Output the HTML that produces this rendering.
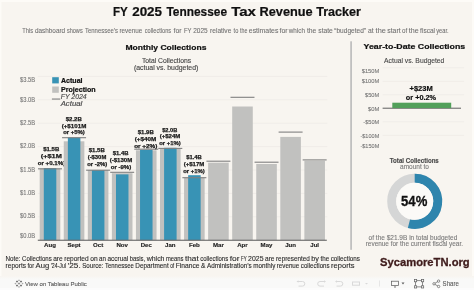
<!DOCTYPE html>
<html><head><meta charset="utf-8"><title>FY 2025 Tennessee Tax Revenue Tracker</title>
<style>
html,body{margin:0;padding:0;background:#f8f5f0;overflow:hidden;}
svg{display:block;will-change:transform;font-family:"Liberation Sans",sans-serif;}
</style></head><body>
<svg width="474" height="290" viewBox="0 0 474 290">
<rect x="0.00" y="0.00" width="474.00" height="290.00" fill="#fdfbf7" />
<rect x="1.50" y="2.00" width="470.50" height="276.00" fill="#f8f5f0" />
<defs><linearGradient id="tg" x1="0" y1="0" x2="0" y2="1"><stop offset="0" stop-color="#f8f5f0"/><stop offset="1" stop-color="#f9f9f8"/></linearGradient></defs>
<rect x="0.00" y="276.00" width="474.00" height="3.00" fill="url(#tg)" />
<rect x="0.00" y="279.00" width="474.00" height="9.00" fill="#f9f9f8" />
<rect x="0.00" y="288.00" width="474.00" height="2.00" fill="#fcfcfc" />
<text x="113.00" y="16.00" font-size="11.92" fill="#111" font-weight="bold" stroke="#111" stroke-width="0.2" textLength="14.80" lengthAdjust="spacingAndGlyphs">FY</text>
<text x="132.20" y="16.00" font-size="11.92" fill="#111" font-weight="bold" stroke="#111" stroke-width="0.2" textLength="29.80" lengthAdjust="spacingAndGlyphs">2025</text>
<text x="166.40" y="16.00" font-size="11.92" fill="#111" font-weight="bold" stroke="#111" stroke-width="0.2" textLength="60.70" lengthAdjust="spacingAndGlyphs">Tennessee</text>
<text x="231.20" y="16.00" font-size="11.92" fill="#111" font-weight="bold" stroke="#111" stroke-width="0.2" textLength="24.80" lengthAdjust="spacingAndGlyphs">Tax</text>
<text x="259.50" y="16.00" font-size="11.92" fill="#111" font-weight="bold" stroke="#111" stroke-width="0.2" textLength="53.20" lengthAdjust="spacingAndGlyphs">Revenue</text>
<text x="316.20" y="16.00" font-size="11.92" fill="#111" font-weight="bold" stroke="#111" stroke-width="0.2" textLength="44.70" lengthAdjust="spacingAndGlyphs">Tracker</text>
<text x="22.20" y="32.60" font-size="6.69" fill="#707070" stroke="#707070" stroke-width="0.08" textLength="10.80" lengthAdjust="spacingAndGlyphs">This</text>
<text x="34.90" y="32.60" font-size="6.69" fill="#707070" stroke="#707070" stroke-width="0.08" textLength="30.30" lengthAdjust="spacingAndGlyphs">dashboard</text>
<text x="66.90" y="32.60" font-size="6.69" fill="#707070" stroke="#707070" stroke-width="0.08" textLength="15.80" lengthAdjust="spacingAndGlyphs">shows</text>
<text x="85.00" y="32.60" font-size="6.69" fill="#707070" stroke="#707070" stroke-width="0.08" textLength="33.00" lengthAdjust="spacingAndGlyphs">Tennessee’s</text>
<text x="119.50" y="32.60" font-size="6.69" fill="#707070" stroke="#707070" stroke-width="0.08" textLength="22.80" lengthAdjust="spacingAndGlyphs">revenue</text>
<text x="144.80" y="32.60" font-size="6.69" fill="#707070" stroke="#707070" stroke-width="0.08" textLength="26.30" lengthAdjust="spacingAndGlyphs">collections</text>
<text x="173.50" y="32.60" font-size="6.69" fill="#707070" stroke="#707070" stroke-width="0.08" textLength="8.10" lengthAdjust="spacingAndGlyphs">for</text>
<text x="183.90" y="32.60" font-size="6.69" fill="#707070" stroke="#707070" stroke-width="0.08" textLength="7.60" lengthAdjust="spacingAndGlyphs">FY</text>
<text x="193.20" y="32.60" font-size="6.69" fill="#707070" stroke="#707070" stroke-width="0.08" textLength="14.50" lengthAdjust="spacingAndGlyphs">2025</text>
<text x="210.10" y="32.60" font-size="6.69" fill="#707070" stroke="#707070" stroke-width="0.08" textLength="21.20" lengthAdjust="spacingAndGlyphs">relative</text>
<text x="233.60" y="32.60" font-size="6.69" fill="#707070" stroke="#707070" stroke-width="0.08" textLength="4.70" lengthAdjust="spacingAndGlyphs">to</text>
<text x="240.00" y="32.60" font-size="6.69" fill="#707070" stroke="#707070" stroke-width="0.08" textLength="7.30" lengthAdjust="spacingAndGlyphs">the</text>
<text x="248.80" y="32.60" font-size="6.69" fill="#707070" stroke="#707070" stroke-width="0.08" textLength="29.60" lengthAdjust="spacingAndGlyphs">estimates</text>
<text x="279.50" y="32.60" font-size="6.69" fill="#707070" stroke="#707070" stroke-width="0.08" textLength="8.20" lengthAdjust="spacingAndGlyphs">for</text>
<text x="288.80" y="32.60" font-size="6.69" fill="#707070" stroke="#707070" stroke-width="0.08" textLength="16.10" lengthAdjust="spacingAndGlyphs">which</text>
<text x="306.90" y="32.60" font-size="6.69" fill="#707070" stroke="#707070" stroke-width="0.08" textLength="9.40" lengthAdjust="spacingAndGlyphs">the</text>
<text x="318.30" y="32.60" font-size="6.69" fill="#707070" stroke="#707070" stroke-width="0.08" textLength="14.50" lengthAdjust="spacingAndGlyphs">state</text>
<text x="334.30" y="32.60" font-size="6.69" fill="#707070" stroke="#707070" stroke-width="0.08" textLength="31.70" lengthAdjust="spacingAndGlyphs">“budgeted”</text>
<text x="368.00" y="32.60" font-size="6.69" fill="#707070" stroke="#707070" stroke-width="0.08" textLength="5.60" lengthAdjust="spacingAndGlyphs">at</text>
<text x="375.60" y="32.60" font-size="6.69" fill="#707070" stroke="#707070" stroke-width="0.08" textLength="10.20" lengthAdjust="spacingAndGlyphs">the</text>
<text x="387.30" y="32.60" font-size="6.69" fill="#707070" stroke="#707070" stroke-width="0.08" textLength="13.30" lengthAdjust="spacingAndGlyphs">start</text>
<text x="402.10" y="32.60" font-size="6.69" fill="#707070" stroke="#707070" stroke-width="0.08" textLength="5.20" lengthAdjust="spacingAndGlyphs">of</text>
<text x="408.80" y="32.60" font-size="6.69" fill="#707070" stroke="#707070" stroke-width="0.08" textLength="9.90" lengthAdjust="spacingAndGlyphs">the</text>
<text x="420.10" y="32.60" font-size="6.69" fill="#707070" stroke="#707070" stroke-width="0.08" textLength="15.00" lengthAdjust="spacingAndGlyphs">fiscal</text>
<text x="436.20" y="32.60" font-size="6.69" fill="#707070" stroke="#707070" stroke-width="0.08" textLength="12.40" lengthAdjust="spacingAndGlyphs">year.</text>
<text x="125.40" y="49.80" font-size="7.70" fill="#111" font-weight="bold" stroke="#111" stroke-width="0.2" textLength="81.00" lengthAdjust="spacingAndGlyphs">Monthly Collections</text>
<text x="141.90" y="62.80" font-size="6.54" fill="#454545" stroke="#454545" stroke-width="0.12" textLength="49.20" lengthAdjust="spacingAndGlyphs">Total Collections</text>
<text x="134.00" y="69.80" font-size="6.54" fill="#454545" stroke="#454545" stroke-width="0.12" textLength="64.30" lengthAdjust="spacingAndGlyphs">(actual vs. budgeted)</text>
<rect x="37.80" y="216.30" width="289.50" height="1.00" fill="#f0ede8" />
<rect x="37.80" y="192.90" width="289.50" height="1.00" fill="#f0ede8" />
<rect x="37.80" y="169.50" width="289.50" height="1.00" fill="#f0ede8" />
<rect x="37.80" y="146.10" width="289.50" height="1.00" fill="#f0ede8" />
<rect x="37.80" y="122.70" width="289.50" height="1.00" fill="#f0ede8" />
<rect x="37.80" y="99.30" width="289.50" height="1.00" fill="#f0ede8" />
<rect x="37.80" y="75.90" width="289.50" height="1.00" fill="#f0ede8" />
<text x="20.00" y="81.50" font-size="6.40" fill="#777" stroke="#777" stroke-width="0.1" textLength="15.10" lengthAdjust="spacingAndGlyphs">$3.5B</text>
<text x="20.00" y="101.50" font-size="6.40" fill="#777" stroke="#777" stroke-width="0.1" textLength="15.10" lengthAdjust="spacingAndGlyphs">$3.0B</text>
<text x="20.00" y="125.10" font-size="6.40" fill="#777" stroke="#777" stroke-width="0.1" textLength="15.10" lengthAdjust="spacingAndGlyphs">$2.5B</text>
<text x="20.00" y="148.20" font-size="6.40" fill="#777" stroke="#777" stroke-width="0.1" textLength="15.10" lengthAdjust="spacingAndGlyphs">$2.0B</text>
<text x="20.00" y="171.50" font-size="6.40" fill="#777" stroke="#777" stroke-width="0.1" textLength="15.10" lengthAdjust="spacingAndGlyphs">$1.5B</text>
<text x="20.00" y="194.50" font-size="6.40" fill="#777" stroke="#777" stroke-width="0.1" textLength="15.10" lengthAdjust="spacingAndGlyphs">$1.0B</text>
<text x="20.00" y="217.60" font-size="6.40" fill="#777" stroke="#777" stroke-width="0.1" textLength="15.10" lengthAdjust="spacingAndGlyphs">$0.5B</text>
<text x="20.00" y="238.20" font-size="6.40" fill="#777" stroke="#777" stroke-width="0.1" textLength="15.10" lengthAdjust="spacingAndGlyphs">$0.0B</text>
<rect x="39.70" y="168.80" width="20.60" height="71.40" fill="#c1c1bf" />
<rect x="43.80" y="168.00" width="12.50" height="72.20" fill="#3893b5" />
<rect x="38.00" y="168.25" width="24.00" height="1.10" fill="#808080" />
<text x="50.00" y="247.1" font-size="6.1" font-weight="bold" fill="#1e1e1e" stroke="#1e1e1e" stroke-width="0.15" text-anchor="middle">Aug</text>
<text x="43.20" y="151.00" font-size="5.81" fill="#1a1a1a" font-weight="bold" stroke="#1a1a1a" stroke-width="0.25" textLength="16.10" lengthAdjust="spacingAndGlyphs">$1.5B</text>
<text x="40.70" y="158.00" font-size="5.81" fill="#1a1a1a" font-weight="bold" stroke="#1a1a1a" stroke-width="0.25" textLength="21.10" lengthAdjust="spacingAndGlyphs">(+$1M</text>
<text x="37.70" y="164.50" font-size="5.81" fill="#1a1a1a" font-weight="bold" stroke="#1a1a1a" stroke-width="0.25" textLength="27.60" lengthAdjust="spacingAndGlyphs">or +0.1%)</text>
<rect x="63.76" y="141.30" width="20.60" height="98.90" fill="#c1c1bf" />
<rect x="67.86" y="137.50" width="12.50" height="102.70" fill="#3893b5" />
<rect x="62.06" y="137.15" width="24.00" height="1.10" fill="#808080" />
<text x="74.06" y="247.1" font-size="6.1" font-weight="bold" fill="#1e1e1e" stroke="#1e1e1e" stroke-width="0.15" text-anchor="middle">Sept</text>
<text x="65.70" y="120.50" font-size="5.81" fill="#1a1a1a" font-weight="bold" stroke="#1a1a1a" stroke-width="0.25" textLength="16.10" lengthAdjust="spacingAndGlyphs">$2.2B</text>
<text x="61.70" y="127.50" font-size="5.81" fill="#1a1a1a" font-weight="bold" stroke="#1a1a1a" stroke-width="0.25" textLength="24.60" lengthAdjust="spacingAndGlyphs">(+$101M</text>
<text x="63.20" y="134.20" font-size="5.81" fill="#1a1a1a" font-weight="bold" stroke="#1a1a1a" stroke-width="0.25" textLength="21.60" lengthAdjust="spacingAndGlyphs">or +5%)</text>
<rect x="87.82" y="170.00" width="20.60" height="70.20" fill="#c1c1bf" />
<rect x="91.92" y="170.20" width="12.50" height="70.00" fill="#3893b5" />
<rect x="86.12" y="169.65" width="24.00" height="1.10" fill="#808080" />
<text x="98.12" y="247.1" font-size="6.1" font-weight="bold" fill="#1e1e1e" stroke="#1e1e1e" stroke-width="0.15" text-anchor="middle">Oct</text>
<text x="88.70" y="152.20" font-size="5.81" fill="#1a1a1a" font-weight="bold" stroke="#1a1a1a" stroke-width="0.25" textLength="16.10" lengthAdjust="spacingAndGlyphs">$1.5B</text>
<text x="87.70" y="159.00" font-size="5.81" fill="#1a1a1a" font-weight="bold" stroke="#1a1a1a" stroke-width="0.25" textLength="18.60" lengthAdjust="spacingAndGlyphs">(-$30M</text>
<text x="87.20" y="166.00" font-size="5.81" fill="#1a1a1a" font-weight="bold" stroke="#1a1a1a" stroke-width="0.25" textLength="20.10" lengthAdjust="spacingAndGlyphs">or -2%)</text>
<rect x="111.88" y="173.20" width="20.60" height="67.00" fill="#c1c1bf" />
<rect x="115.98" y="174.40" width="12.50" height="65.80" fill="#3893b5" />
<rect x="110.18" y="171.75" width="24.00" height="1.10" fill="#808080" />
<text x="122.18" y="247.1" font-size="6.1" font-weight="bold" fill="#1e1e1e" stroke="#1e1e1e" stroke-width="0.15" text-anchor="middle">Nov</text>
<text x="112.70" y="155.00" font-size="5.81" fill="#1a1a1a" font-weight="bold" stroke="#1a1a1a" stroke-width="0.25" textLength="15.80" lengthAdjust="spacingAndGlyphs">$1.4B</text>
<text x="109.70" y="162.00" font-size="5.81" fill="#1a1a1a" font-weight="bold" stroke="#1a1a1a" stroke-width="0.25" textLength="22.60" lengthAdjust="spacingAndGlyphs">(-$130M</text>
<text x="110.70" y="168.50" font-size="5.81" fill="#1a1a1a" font-weight="bold" stroke="#1a1a1a" stroke-width="0.25" textLength="20.60" lengthAdjust="spacingAndGlyphs">or -9%)</text>
<rect x="135.94" y="150.30" width="20.60" height="89.90" fill="#c1c1bf" />
<rect x="140.04" y="149.80" width="12.50" height="90.40" fill="#3893b5" />
<rect x="134.24" y="148.65" width="24.00" height="1.10" fill="#808080" />
<text x="146.24" y="247.1" font-size="6.1" font-weight="bold" fill="#1e1e1e" stroke="#1e1e1e" stroke-width="0.15" text-anchor="middle">Dec</text>
<text x="137.70" y="134.00" font-size="5.81" fill="#1a1a1a" font-weight="bold" stroke="#1a1a1a" stroke-width="0.25" textLength="16.10" lengthAdjust="spacingAndGlyphs">$1.9B</text>
<text x="134.70" y="141.00" font-size="5.81" fill="#1a1a1a" font-weight="bold" stroke="#1a1a1a" stroke-width="0.25" textLength="21.60" lengthAdjust="spacingAndGlyphs">(+$40M</text>
<text x="134.20" y="148.00" font-size="5.81" fill="#1a1a1a" font-weight="bold" stroke="#1a1a1a" stroke-width="0.25" textLength="23.10" lengthAdjust="spacingAndGlyphs">or +2%)</text>
<rect x="160.00" y="148.80" width="20.60" height="91.40" fill="#c1c1bf" />
<rect x="164.10" y="147.80" width="12.50" height="92.40" fill="#3893b5" />
<rect x="158.30" y="147.85" width="24.00" height="1.10" fill="#808080" />
<text x="170.30" y="247.1" font-size="6.1" font-weight="bold" fill="#1e1e1e" stroke="#1e1e1e" stroke-width="0.15" text-anchor="middle">Jan</text>
<text x="162.20" y="131.50" font-size="5.81" fill="#1a1a1a" font-weight="bold" stroke="#1a1a1a" stroke-width="0.25" textLength="15.10" lengthAdjust="spacingAndGlyphs">$2.0B</text>
<text x="159.70" y="138.20" font-size="5.81" fill="#1a1a1a" font-weight="bold" stroke="#1a1a1a" stroke-width="0.25" textLength="20.60" lengthAdjust="spacingAndGlyphs">(+$24M</text>
<text x="159.20" y="145.00" font-size="5.81" fill="#1a1a1a" font-weight="bold" stroke="#1a1a1a" stroke-width="0.25" textLength="21.60" lengthAdjust="spacingAndGlyphs">or +1%)</text>
<rect x="184.06" y="177.90" width="20.60" height="62.30" fill="#c1c1bf" />
<rect x="188.16" y="175.20" width="12.50" height="65.00" fill="#3893b5" />
<rect x="182.36" y="177.15" width="24.00" height="1.10" fill="#808080" />
<text x="194.36" y="247.1" font-size="6.1" font-weight="bold" fill="#1e1e1e" stroke="#1e1e1e" stroke-width="0.15" text-anchor="middle">Feb</text>
<text x="186.20" y="159.00" font-size="5.81" fill="#1a1a1a" font-weight="bold" stroke="#1a1a1a" stroke-width="0.25" textLength="15.60" lengthAdjust="spacingAndGlyphs">$1.4B</text>
<text x="183.70" y="166.00" font-size="5.81" fill="#1a1a1a" font-weight="bold" stroke="#1a1a1a" stroke-width="0.25" textLength="20.60" lengthAdjust="spacingAndGlyphs">(+$17M</text>
<text x="183.20" y="173.00" font-size="5.81" fill="#1a1a1a" font-weight="bold" stroke="#1a1a1a" stroke-width="0.25" textLength="21.60" lengthAdjust="spacingAndGlyphs">or +1%)</text>
<rect x="208.12" y="162.70" width="20.60" height="77.50" fill="#c1c1bf" />
<rect x="206.42" y="160.65" width="24.00" height="1.10" fill="#808080" />
<text x="218.42" y="247.1" font-size="6.1" font-weight="bold" fill="#1e1e1e" stroke="#1e1e1e" stroke-width="0.15" text-anchor="middle">Mar</text>
<rect x="232.18" y="106.50" width="20.60" height="133.70" fill="#c1c1bf" />
<rect x="230.48" y="96.75" width="24.00" height="1.10" fill="#808080" />
<text x="242.48" y="247.1" font-size="6.1" font-weight="bold" fill="#1e1e1e" stroke="#1e1e1e" stroke-width="0.15" text-anchor="middle">Apr</text>
<rect x="256.24" y="164.00" width="20.60" height="76.20" fill="#c1c1bf" />
<rect x="254.54" y="161.65" width="24.00" height="1.10" fill="#808080" />
<text x="266.54" y="247.1" font-size="6.1" font-weight="bold" fill="#1e1e1e" stroke="#1e1e1e" stroke-width="0.15" text-anchor="middle">May</text>
<rect x="280.30" y="136.90" width="20.60" height="103.30" fill="#c1c1bf" />
<rect x="278.60" y="131.55" width="24.00" height="1.10" fill="#808080" />
<text x="290.60" y="247.1" font-size="6.1" font-weight="bold" fill="#1e1e1e" stroke="#1e1e1e" stroke-width="0.15" text-anchor="middle">Jun</text>
<rect x="304.36" y="160.80" width="20.60" height="79.40" fill="#c1c1bf" />
<rect x="302.66" y="159.35" width="24.00" height="1.10" fill="#808080" />
<text x="314.66" y="247.1" font-size="6.1" font-weight="bold" fill="#1e1e1e" stroke="#1e1e1e" stroke-width="0.15" text-anchor="middle">Jul</text>
<rect x="37.80" y="239.70" width="289.00" height="1.10" fill="#666" />
<rect x="52.20" y="77.20" width="6.60" height="6.20" fill="#3893b5" />
<rect x="52.20" y="86.50" width="6.60" height="6.30" fill="#c1c1bf" />
<rect x="51.90" y="98.50" width="8.30" height="1.10" fill="#808080" />
<text x="61.00" y="83.00" font-size="6.40" fill="#111" font-weight="bold" stroke="#111" stroke-width="0.2" textLength="21.50" lengthAdjust="spacingAndGlyphs">Actual</text>
<text x="61.00" y="92.10" font-size="6.40" fill="#111" font-weight="bold" stroke="#111" stroke-width="0.2" textLength="34.60" lengthAdjust="spacingAndGlyphs">Projection</text>
<text x="60.70" y="98.80" font-size="6.40" fill="#4a4a4a" stroke="#4a4a4a" stroke-width="0.15" font-style="italic" textLength="26.00" lengthAdjust="spacingAndGlyphs">FY 2024</text>
<text x="60.70" y="105.50" font-size="6.40" fill="#4a4a4a" stroke="#4a4a4a" stroke-width="0.15" font-style="italic" textLength="21.60" lengthAdjust="spacingAndGlyphs">Actual</text>
<rect x="350.20" y="41.30" width="1.80" height="208.50" fill="#c0c0c0" />
<text x="363.60" y="48.80" font-size="7.63" fill="#111" font-weight="bold" stroke="#111" stroke-width="0.2" textLength="101.60" lengthAdjust="spacingAndGlyphs">Year-to-Date Collections</text>
<text x="384.10" y="62.60" font-size="6.69" fill="#454545" stroke="#454545" stroke-width="0.1" textLength="60.30" lengthAdjust="spacingAndGlyphs">Actual vs. Budgeted</text>
<rect x="382.60" y="67.30" width="81.50" height="1.00" fill="#f0ede8" />
<rect x="382.60" y="80.80" width="81.50" height="1.00" fill="#f0ede8" />
<rect x="382.60" y="94.30" width="81.50" height="1.00" fill="#f0ede8" />
<rect x="382.60" y="121.30" width="81.50" height="1.00" fill="#f0ede8" />
<rect x="382.60" y="134.80" width="81.50" height="1.00" fill="#f0ede8" />
<text x="361.70" y="73.10" font-size="6.25" fill="#777" stroke="#777" stroke-width="0.1" textLength="17.60" lengthAdjust="spacingAndGlyphs">$150M</text>
<text x="361.70" y="82.90" font-size="6.25" fill="#777" stroke="#777" stroke-width="0.1" textLength="17.60" lengthAdjust="spacingAndGlyphs">$100M</text>
<text x="365.00" y="97.20" font-size="6.25" fill="#777" stroke="#777" stroke-width="0.1" textLength="14.30" lengthAdjust="spacingAndGlyphs">$50M</text>
<text x="367.90" y="110.50" font-size="6.25" fill="#777" stroke="#777" stroke-width="0.1" textLength="11.40" lengthAdjust="spacingAndGlyphs">$0M</text>
<text x="363.30" y="123.80" font-size="6.25" fill="#777" stroke="#777" stroke-width="0.1" textLength="16.00" lengthAdjust="spacingAndGlyphs">-$50M</text>
<text x="360.40" y="137.50" font-size="6.25" fill="#777" stroke="#777" stroke-width="0.1" textLength="18.90" lengthAdjust="spacingAndGlyphs">-$100M</text>
<text x="360.40" y="147.60" font-size="6.25" fill="#777" stroke="#777" stroke-width="0.1" textLength="18.90" lengthAdjust="spacingAndGlyphs">-$150M</text>
<rect x="382.60" y="107.70" width="78.40" height="1.00" fill="#5e5e5e" />
<rect x="392.30" y="102.70" width="58.90" height="5.40" fill="#52a05a" />
<text x="409.50" y="90.50" font-size="6.98" fill="#111" font-weight="bold" stroke="#111" stroke-width="0.2" textLength="23.20" lengthAdjust="spacingAndGlyphs">+$23M</text>
<text x="405.80" y="99.80" font-size="6.98" fill="#111" font-weight="bold" stroke="#111" stroke-width="0.2" textLength="30.30" lengthAdjust="spacingAndGlyphs">or +0.2%</text>
<text x="389.80" y="162.70" font-size="6.54" fill="#4a4a4a" font-weight="bold" stroke="#4a4a4a" stroke-width="0.15" textLength="49.00" lengthAdjust="spacingAndGlyphs">Total Collections</text>
<text x="400.00" y="168.70" font-size="6.54" fill="#7a7a7a" stroke="#7a7a7a" stroke-width="0.1" textLength="29.00" lengthAdjust="spacingAndGlyphs">amount to</text>
<circle cx="414.7" cy="201.3" r="23.0" fill="none" stroke="#d5d6d6" stroke-width="9.0"/>
<path d="M 414.7 178.3 A 23.0 23.0 0 1 1 408.980 223.577" fill="none" stroke="#2e85ad" stroke-width="9.0"/>
<circle cx="414.7" cy="201.3" r="18.5" fill="#fbfaf7"/>
<text x="401.10" y="206.30" font-size="14.53" fill="#111" font-weight="bold" stroke="#111" stroke-width="0.3" textLength="26.20" lengthAdjust="spacingAndGlyphs">54%</text>
<text x="368.60" y="240.00" font-size="6.54" fill="#7a7a7a" stroke="#7a7a7a" stroke-width="0.1" textLength="88.70" lengthAdjust="spacingAndGlyphs">of the $21.9B in total budgeted</text>
<text x="365.70" y="246.10" font-size="6.54" fill="#7a7a7a" stroke="#7a7a7a" stroke-width="0.1" textLength="97.30" lengthAdjust="spacingAndGlyphs">revenue for the current fiscal year.</text>
<text x="5.60" y="261.40" font-size="6.54" fill="#2a2a2a" stroke="#2a2a2a" stroke-width="0.1" textLength="15.00" lengthAdjust="spacingAndGlyphs">Note:</text>
<text x="22.10" y="261.40" font-size="6.54" fill="#2a2a2a" stroke="#2a2a2a" stroke-width="0.1" textLength="29.60" lengthAdjust="spacingAndGlyphs">Collections</text>
<text x="53.20" y="261.40" font-size="6.54" fill="#2a2a2a" stroke="#2a2a2a" stroke-width="0.1" textLength="9.50" lengthAdjust="spacingAndGlyphs">are</text>
<text x="64.20" y="261.40" font-size="6.54" fill="#2a2a2a" stroke="#2a2a2a" stroke-width="0.1" textLength="24.50" lengthAdjust="spacingAndGlyphs">reported</text>
<text x="90.20" y="261.40" font-size="6.54" fill="#2a2a2a" stroke="#2a2a2a" stroke-width="0.1" textLength="7.40" lengthAdjust="spacingAndGlyphs">on</text>
<text x="99.10" y="261.40" font-size="6.54" fill="#2a2a2a" stroke="#2a2a2a" stroke-width="0.1" textLength="6.90" lengthAdjust="spacingAndGlyphs">an</text>
<text x="107.50" y="261.40" font-size="6.54" fill="#2a2a2a" stroke="#2a2a2a" stroke-width="0.1" textLength="20.80" lengthAdjust="spacingAndGlyphs">accrual</text>
<text x="129.80" y="261.40" font-size="6.54" fill="#2a2a2a" stroke="#2a2a2a" stroke-width="0.1" textLength="15.40" lengthAdjust="spacingAndGlyphs">basis,</text>
<text x="146.70" y="261.40" font-size="6.54" fill="#2a2a2a" stroke="#2a2a2a" stroke-width="0.1" textLength="17.80" lengthAdjust="spacingAndGlyphs">which</text>
<text x="166.00" y="261.40" font-size="6.54" fill="#2a2a2a" stroke="#2a2a2a" stroke-width="0.1" textLength="17.50" lengthAdjust="spacingAndGlyphs">means</text>
<text x="185.00" y="261.40" font-size="6.54" fill="#2a2a2a" stroke="#2a2a2a" stroke-width="0.1" textLength="13.70" lengthAdjust="spacingAndGlyphs">that</text>
<text x="200.20" y="261.40" font-size="6.54" fill="#2a2a2a" stroke="#2a2a2a" stroke-width="0.1" textLength="28.00" lengthAdjust="spacingAndGlyphs">collections</text>
<text x="229.70" y="261.40" font-size="6.54" fill="#2a2a2a" stroke="#2a2a2a" stroke-width="0.1" textLength="9.80" lengthAdjust="spacingAndGlyphs">for</text>
<text x="241.00" y="261.40" font-size="6.54" fill="#2a2a2a" stroke="#2a2a2a" stroke-width="0.1" textLength="5.60" lengthAdjust="spacingAndGlyphs">FY</text>
<text x="248.10" y="261.40" font-size="6.54" fill="#2a2a2a" stroke="#2a2a2a" stroke-width="0.1" textLength="15.40" lengthAdjust="spacingAndGlyphs">2025</text>
<text x="265.00" y="261.40" font-size="6.54" fill="#2a2a2a" stroke="#2a2a2a" stroke-width="0.1" textLength="9.50" lengthAdjust="spacingAndGlyphs">are</text>
<text x="276.00" y="261.40" font-size="6.54" fill="#2a2a2a" stroke="#2a2a2a" stroke-width="0.1" textLength="33.80" lengthAdjust="spacingAndGlyphs">represented</text>
<text x="311.30" y="261.40" font-size="6.54" fill="#2a2a2a" stroke="#2a2a2a" stroke-width="0.1" textLength="7.70" lengthAdjust="spacingAndGlyphs">by</text>
<text x="320.50" y="261.40" font-size="6.54" fill="#2a2a2a" stroke="#2a2a2a" stroke-width="0.1" textLength="8.70" lengthAdjust="spacingAndGlyphs">the</text>
<text x="330.70" y="261.40" font-size="6.54" fill="#2a2a2a" stroke="#2a2a2a" stroke-width="0.1" textLength="29.30" lengthAdjust="spacingAndGlyphs">collections</text>
<text x="5.60" y="268.30" font-size="6.54" fill="#2a2a2a" stroke="#2a2a2a" stroke-width="0.1" textLength="20.40" lengthAdjust="spacingAndGlyphs">reports</text>
<text x="27.50" y="268.30" font-size="6.54" fill="#2a2a2a" stroke="#2a2a2a" stroke-width="0.1" textLength="6.60" lengthAdjust="spacingAndGlyphs">for</text>
<text x="35.60" y="268.30" font-size="6.54" fill="#2a2a2a" stroke="#2a2a2a" stroke-width="0.1" textLength="13.60" lengthAdjust="spacingAndGlyphs">Aug</text>
<text x="50.70" y="268.30" font-size="6.54" fill="#2a2a2a" stroke="#2a2a2a" stroke-width="0.1" textLength="15.30" lengthAdjust="spacingAndGlyphs">’24-Jul</text>
<text x="67.50" y="268.30" font-size="6.54" fill="#2a2a2a" stroke="#2a2a2a" stroke-width="0.1" textLength="13.20" lengthAdjust="spacingAndGlyphs">’25.</text>
<text x="82.20" y="268.30" font-size="6.54" fill="#2a2a2a" stroke="#2a2a2a" stroke-width="0.1" textLength="21.30" lengthAdjust="spacingAndGlyphs">Source:</text>
<text x="105.00" y="268.30" font-size="6.54" fill="#2a2a2a" stroke="#2a2a2a" stroke-width="0.1" textLength="28.80" lengthAdjust="spacingAndGlyphs">Tennessee</text>
<text x="135.30" y="268.30" font-size="6.54" fill="#2a2a2a" stroke="#2a2a2a" stroke-width="0.1" textLength="33.40" lengthAdjust="spacingAndGlyphs">Department</text>
<text x="170.20" y="268.30" font-size="6.54" fill="#2a2a2a" stroke="#2a2a2a" stroke-width="0.1" textLength="4.00" lengthAdjust="spacingAndGlyphs">of</text>
<text x="175.70" y="268.30" font-size="6.54" fill="#2a2a2a" stroke="#2a2a2a" stroke-width="0.1" textLength="23.80" lengthAdjust="spacingAndGlyphs">Finance</text>
<text x="201.00" y="268.30" font-size="6.54" fill="#2a2a2a" stroke="#2a2a2a" stroke-width="0.1" textLength="4.40" lengthAdjust="spacingAndGlyphs">&amp;</text>
<text x="206.90" y="268.30" font-size="6.54" fill="#2a2a2a" stroke="#2a2a2a" stroke-width="0.1" textLength="44.80" lengthAdjust="spacingAndGlyphs">Administration’s</text>
<text x="253.20" y="268.30" font-size="6.54" fill="#2a2a2a" stroke="#2a2a2a" stroke-width="0.1" textLength="22.10" lengthAdjust="spacingAndGlyphs">monthly</text>
<text x="276.80" y="268.30" font-size="6.54" fill="#2a2a2a" stroke="#2a2a2a" stroke-width="0.1" textLength="22.50" lengthAdjust="spacingAndGlyphs">revenue</text>
<text x="300.80" y="268.30" font-size="6.54" fill="#2a2a2a" stroke="#2a2a2a" stroke-width="0.1" textLength="28.80" lengthAdjust="spacingAndGlyphs">collections</text>
<text x="331.10" y="268.30" font-size="6.54" fill="#2a2a2a" stroke="#2a2a2a" stroke-width="0.1" textLength="23.40" lengthAdjust="spacingAndGlyphs">reports</text>
<text x="380.00" y="266.00" font-size="11.05" fill="#3f1c1c" font-weight="bold" stroke="#3f1c1c" stroke-width="0.3" textLength="89.70" lengthAdjust="spacingAndGlyphs">SycamoreTN.org</text>
<text x="25.00" y="285.60" font-size="6.25" fill="#5a5a5a" stroke="#5a5a5a" stroke-width="0.1" textLength="61.80" lengthAdjust="spacingAndGlyphs">View on Tableau Public</text>
<text x="442.60" y="285.70" font-size="6.54" fill="#5a5a5a" stroke="#5a5a5a" stroke-width="0.1" textLength="16.20" lengthAdjust="spacingAndGlyphs">Share</text>
<rect x="17.90" y="283.20" width="2.20" height="0.80" fill="#8a8a8a" />
<rect x="18.60" y="282.50" width="0.80" height="2.20" fill="#8a8a8a" />
<rect x="14.60" y="283.30" width="1.60" height="0.60" fill="#9a9a9a" />
<rect x="15.10" y="282.80" width="0.60" height="1.60" fill="#9a9a9a" />
<rect x="21.80" y="283.30" width="1.60" height="0.60" fill="#9a9a9a" />
<rect x="22.30" y="282.80" width="0.60" height="1.60" fill="#9a9a9a" />
<rect x="18.20" y="280.00" width="1.60" height="0.60" fill="#9a9a9a" />
<rect x="18.70" y="279.50" width="0.60" height="1.60" fill="#9a9a9a" />
<rect x="18.20" y="286.60" width="1.60" height="0.60" fill="#9a9a9a" />
<rect x="18.70" y="286.10" width="0.60" height="1.60" fill="#9a9a9a" />
<rect x="16.00" y="281.20" width="2.00" height="0.80" fill="#6a6a6a" />
<rect x="16.60" y="280.60" width="0.80" height="2.00" fill="#6a6a6a" />
<rect x="20.00" y="281.20" width="2.00" height="0.80" fill="#6a6a6a" />
<rect x="20.60" y="280.60" width="0.80" height="2.00" fill="#6a6a6a" />
<rect x="16.00" y="285.20" width="2.00" height="0.80" fill="#6a6a6a" />
<rect x="16.60" y="284.60" width="0.80" height="2.00" fill="#6a6a6a" />
<rect x="20.00" y="285.20" width="2.00" height="0.80" fill="#6a6a6a" />
<rect x="20.60" y="284.60" width="0.80" height="2.00" fill="#6a6a6a" />
<path d="M297.5 281.5 h5 a2.3 2.3 0 0 1 0 4.6 h-4" fill="none" stroke="#d9d9d9" stroke-width="1"/>
<path d="M296.5 281.5 l2 -1.3 v2.6 z" fill="#d9d9d9"/>
<path d="M325 281.5 h-5 a2.3 2.3 0 0 0 0 4.6 h4" fill="none" stroke="#d9d9d9" stroke-width="1"/>
<path d="M326 281.5 l-2 -1.3 v2.6 z" fill="#d9d9d9"/>
<path d="M336 281.5 h4.5 a2.3 2.3 0 0 1 0 4.6 h-4" fill="none" stroke="#d9d9d9" stroke-width="1"/>
<path d="M335 281.5 l2 -1.3 v2.6 z" fill="#d9d9d9"/>
<rect x="352.5" y="282" width="7" height="3.2" fill="none" stroke="#d9d9d9" stroke-width="1"/>
<path d="M365 283 h3 l-1.5 1.6 z" fill="#d9d9d9"/>
<rect x="379.00" y="280.50" width="0.80" height="6.00" fill="#e2e2e2" />
<rect x="391.6" y="281.2" width="6.8" height="4.4" fill="none" stroke="#5f5f5f" stroke-width="0.75"/>
<path d="M393.8 286.6 h2.4 l-1.2 1.3 z" fill="#5f5f5f"/>
<path d="M401.5 282.6 h3.0 l-1.5 1.9 z" fill="#5f5f5f"/>
<rect x="415.6" y="280.7" width="7" height="6.2" fill="none" stroke="#5f5f5f" stroke-width="0.7"/>
<rect x="414.50" y="279.60" width="2.2" height="2.2" fill="#fafaf9" stroke="#5f5f5f" stroke-width="0.7"/>
<rect x="421.50" y="279.60" width="2.2" height="2.2" fill="#fafaf9" stroke="#5f5f5f" stroke-width="0.7"/>
<rect x="414.50" y="285.80" width="2.2" height="2.2" fill="#fafaf9" stroke="#5f5f5f" stroke-width="0.7"/>
<rect x="421.50" y="285.80" width="2.2" height="2.2" fill="#fafaf9" stroke="#5f5f5f" stroke-width="0.7"/>
<path d="M434 283.8 L438.6 281.1 M434 283.8 L438.6 286.5" stroke="#5f5f5f" stroke-width="0.7"/>
<circle cx="434" cy="283.8" r="1.2" fill="#fafaf9" stroke="#5f5f5f" stroke-width="0.7"/>
<circle cx="438.6" cy="281.1" r="1.2" fill="#fafaf9" stroke="#5f5f5f" stroke-width="0.7"/>
<circle cx="438.6" cy="286.5" r="1.2" fill="#fafaf9" stroke="#5f5f5f" stroke-width="0.7"/>
</svg>
</body></html>
